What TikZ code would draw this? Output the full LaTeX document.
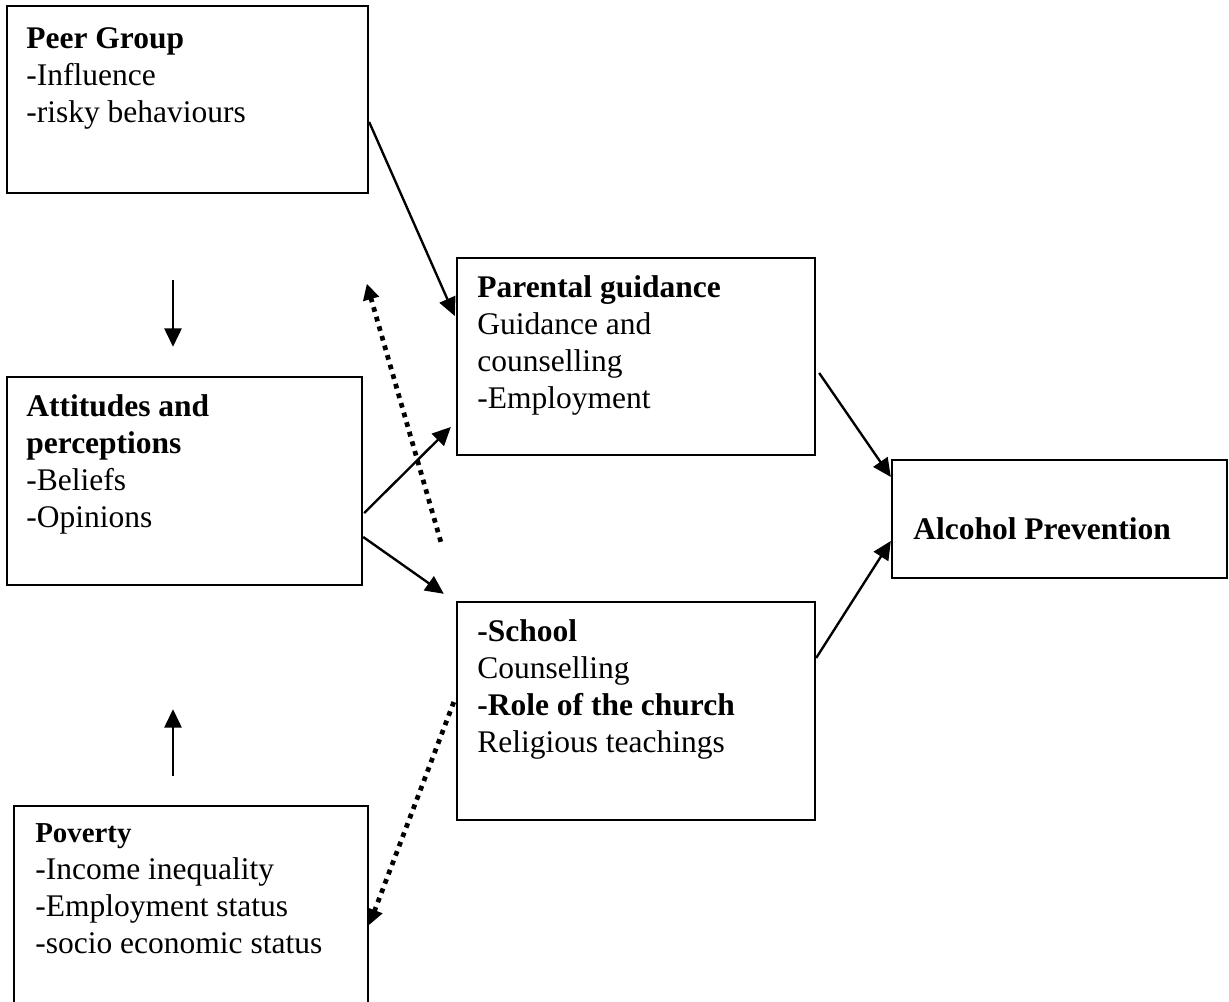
\documentclass[tikz,border=0pt]{standalone}
\usepackage{fontspec}
\setmainfont{Liberation Serif}
\usepackage{tikz}
\usetikzlibrary{arrows.meta}
\newcommand{\pxu}{0.381pt}

\begin{document}
\begin{tikzpicture}[x=\pxu,y=-\pxu,>={Triangle[length=7pt,width=6.5pt]},
  box/.style={draw,line width=0.9pt,inner sep=0pt},
  lbl/.style={anchor=north west,inner sep=0pt,align=left,font=\fontsize{12}{14.1}\selectfont},
  dotline/.style={line width=1.8pt,dash pattern=on 1.8pt off 2pt,-{Triangle[length=6pt,width=6pt]}}]
  \clip (0,0) rectangle (1229,1002);
  % boxes
  \node[box,minimum width=361*\pxu,minimum height=187*\pxu] (peer)   at (187.5,99.5) {};
  \node[box,minimum width=358*\pxu,minimum height=197*\pxu] (parent) at (636,356.5)  {};
  \node[box,minimum width=355*\pxu,minimum height=208*\pxu] (att)    at (184.5,481)  {};
  \node[box,minimum width=358*\pxu,minimum height=218*\pxu] (school) at (636,711)    {};
  \node[box,minimum width=354*\pxu,minimum height=197*\pxu] (pov)    at (191,904.5)  {};
  \node[box,minimum width=335*\pxu,minimum height=118*\pxu] (alc)    at (1059.5,519) {};

  % texts
  \node[lbl] (peer-t)   at ([shift={(20,17)}]peer.north west)
    {\strut\textbf{Peer Group}\\-Influence\\-risky behaviours};
  \node[lbl] (parent-t) at ([shift={(21,14)}]parent.north west)
    {\strut\textbf{Parental guidance}\\Guidance and\\counselling\\-Employment};
  \node[lbl] (att-t)    at ([shift={(20,14)}]att.north west)
    {\strut\textbf{Attitudes and}\\\textbf{perceptions}\\-Beliefs\\-Opinions};
  \node[lbl] (school-t) at ([shift={(21,14)}]school.north west)
    {\strut\textbf{-School}\\Counselling\\\textbf{-Role of the church}\\Religious teachings};
  \node[lbl] (pov-t)    at ([shift={(22,11)}]pov.north west)
    {\strut{\fontsize{11}{14.1}\selectfont\textbf{Poverty}}\\-Income inequality\\-Employment status\\-socio economic status};
  \node[lbl] (alc-t)    at ([shift={(22,54)}]alc.north west)
    {\strut\textbf{Alcohol Prevention}};

  \path[->,line width=0.9pt]
    ([shift={(0,22.5)}]peer.east)    edge ([shift={(-1,-40.5)}]parent.west)
    ([shift={(-14.5,86)}]peer.south) edge ([shift={(-11.5,-29)}]att.north)
    ([shift={(-18,-29)}]pov.north)   edge ([shift={(-11.5,123)}]att.south)
    ([shift={(1,32)}]att.east)       edge ([shift={(-5,70.5)}]parent.west)
    ([shift={(0,56)}]att.east)       edge ([shift={(-12,-7)}]school.north west)
    ([shift={(3,16.5)}]parent.east)  edge ([shift={(0,-42)}]alc.west)
    ([shift={(0,-53)}]school.east)   edge ([shift={(0,22)}]alc.west);
  % dotted links
  \path[dotline]
    ([shift={(-15,-59)}]school.north west) edge ([shift={(-89,27)}]parent.north west)
    ([shift={(-2,-9)}]school.west)         edge ([shift={(0,20.5)}]pov.east);
\end{tikzpicture}
\end{document}
